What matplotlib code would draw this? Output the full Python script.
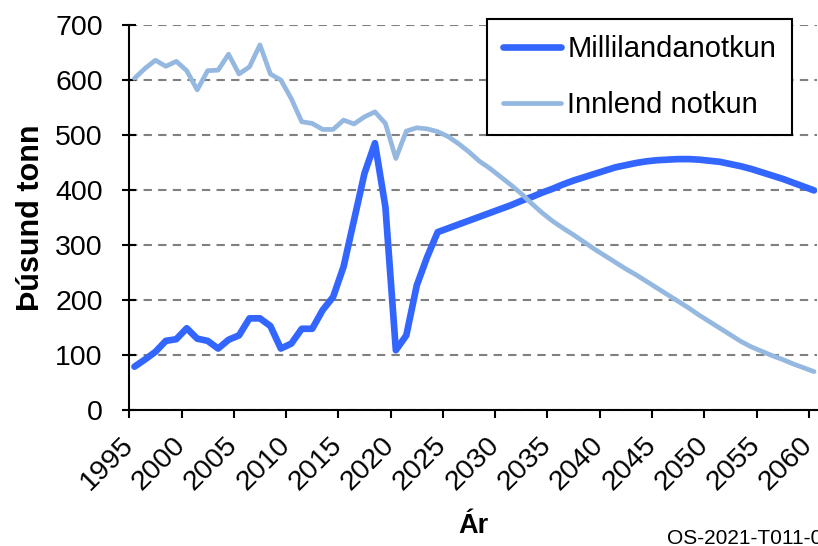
import numpy as np
import matplotlib.pyplot as plt
from matplotlib.transforms import ScaledTranslation

plt.rcParams['font.family'] = ['Liberation Sans', 'DejaVu Sans']

# ár 1995-2060
years = np.arange(1995, 2061)

# Millilandanotkun (þúsund tonn)
millilanda = [78, 91, 105, 125, 128, 148, 129, 125, 111, 127,
              135, 166, 166, 152, 111, 120, 147, 147, 181, 205,
              260, 345, 430, 485, 369, 108, 135, 226, 278, 323,
              330, 337, 344, 351, 358, 365, 372, 380, 387, 395,
              402, 410, 417, 423, 429, 435, 441, 445, 449, 452,
              454, 455, 456, 456, 455, 453, 451, 447, 443, 438,
              432, 426, 420, 413, 406, 399]

# Innlend notkun (þúsund tonn)
innlend = [603, 621, 636, 625, 634, 617, 582, 617, 618, 647,
           611, 624, 664, 611, 600, 566, 524, 521, 510, 510,
           527, 520, 533, 542, 521, 457, 507, 513, 511, 506,
           497, 484, 469, 452, 439, 424, 409, 393, 375, 358,
           343, 330, 318, 305, 292, 280, 268, 256, 245, 233,
           221, 209, 197, 185, 172, 160, 148, 136, 124, 114,
           106, 98, 91, 83, 76, 69]

tick_years = np.arange(1995, 2061, 5)

fig = plt.figure(figsize=(8.18, 5.46), dpi=100)
ax = fig.add_axes([0.158, 0.250, 0.841, 0.704])

# punktar eru miðjaðir milli hakanna eins og í flokkaás
x = years + 0.5
ax.plot(x, millilanda, color='#3366ff', linewidth=4.8,
        solid_capstyle='round', solid_joinstyle='round',
        label='Millilandanotkun', zorder=3)
ax.plot(x, innlend, color='#95b8e0', linewidth=3.4,
        solid_capstyle='round', solid_joinstyle='round',
        label='Innlend notkun', zorder=3)

ax.set_xlim(1995, 2060.8)
ax.set_ylim(0, 700)
ax.set_yticks(np.arange(0, 701, 100))
ax.set_xticks(tick_years)
ax.set_xticklabels([str(y) for y in tick_years], rotation=45,
                   ha='right', va='center', rotation_mode='anchor')
# hliðra merkjunum aðeins til hægri
shift = ScaledTranslation(5 / 100, 0, fig.dpi_scale_trans)
for lab in ax.get_xticklabels():
    lab.set_transform(lab.get_transform() + shift)

ax.grid(axis='y', color='#808080', linestyle=(0, (4, 3)), linewidth=1.5)
ax.set_axisbelow(True)
for s in ['top', 'right']:
    ax.spines[s].set_visible(False)
for s in ['left', 'bottom']:
    ax.spines[s].set_linewidth(1.5)

ax.tick_params(axis='y', direction='inout', length=10, width=1.5,
               labelsize=20.5, pad=14)
ax.tick_params(axis='x', direction='out', length=6, width=1.5,
               labelsize=20.5, pad=17)

ax.set_ylabel('Þúsund tonn', fontsize=22, fontweight='bold', va='center')
ax.yaxis.set_label_coords(-0.143, 0.5)
ax.set_xlabel('Ár', fontsize=19.5, fontweight='bold', va='baseline')
ax.xaxis.set_label_coords(0.5, -0.322)

leg = ax.legend(loc='upper left', bbox_to_anchor=(487 / 818, 1 - 19 / 546),
                bbox_transform=fig.transFigure, fontsize=21, frameon=True,
                fancybox=False, edgecolor='black', framealpha=1,
                handlelength=2.0, handletextpad=0.2, labelspacing=0.95,
                borderpad=0.55, borderaxespad=0)
leg.get_frame().set_linewidth(1.5)

fig.text(667 / 818, 1 - 544 / 546, 'OS-2021-T011-01', fontsize=15,
         ha='left', va='baseline')

fig.savefig('out.png', dpi=100)
